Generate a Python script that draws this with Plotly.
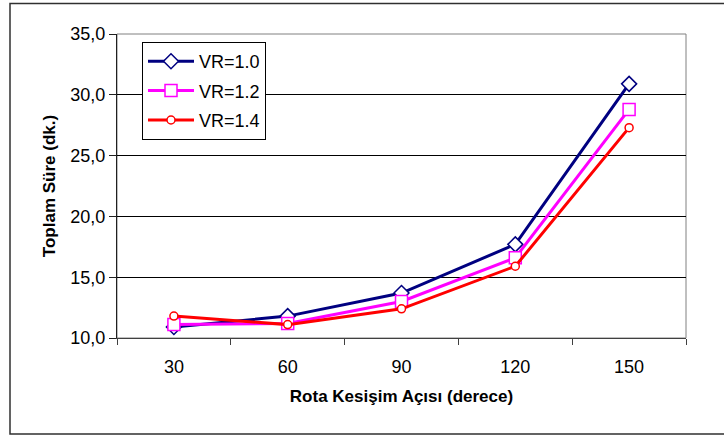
import plotly.graph_objects as go

categories = ["30", "60", "90", "120", "150"]
vr10 = [10.9, 11.8, 13.7, 17.7, 30.9]
vr12 = [11.1, 11.2, 13.0, 16.6, 28.8]
vr14 = [11.8, 11.1, 12.4, 15.9, 27.3]
series_names = ["VR=1.0", "VR=1.2", "VR=1.4"]
y_ticks = [10, 15, 20, 25, 30, 35]

FONT = "Liberation Sans, Arial, sans-serif"

fig = go.Figure()
styles = [
    (vr10, "#000080", "diamond", 11.5),
    (vr12, "#FF00FF", "square", 12),
    (vr14, "#FF0000", "circle", 8),
]
for i, (vals, col, sym, sz) in enumerate(styles):
    fig.add_trace(go.Scatter(
        x=categories, y=vals, name=series_names[i], mode="lines+markers",
        legendgroup=f"g{i}",
        line=dict(color=col, width=3),
        marker=dict(symbol=sym, size=sz, color="white",
                    line=dict(color=col, width=1.5)),
    ))

L, R, T, B = 117, 38, 34, 99
W, H = 724, 437
pw, ph = W - L - R, H - T - B

fig.update_layout(
    width=W, height=H,
    margin=dict(l=L, r=R, t=T, b=B),
    paper_bgcolor="white", plot_bgcolor="white",
    separators=", ",
    font=dict(family=FONT, size=16, color="black"),
    showlegend=True,
    legend=dict(
        x=(142 - L) / pw, y=(338 - 42) / ph, xanchor="left", yanchor="top",
        bordercolor="black", borderwidth=1, bgcolor="white",
        font=dict(family=FONT, size=18, color="black"),
        tracegroupgap=3, itemwidth=46,
    ),
    xaxis=dict(
        type="category", categoryorder="array", categoryarray=categories,
        range=[-0.5, 4.5],
        showline=True, linecolor="#404040", linewidth=1,
        ticks="outside", tickson="boundaries", ticklen=6, tickcolor="#404040",
        ticklabelstandoff=12,
        showgrid=False, zeroline=False,
        tickfont=dict(family=FONT, size=18),
        title=dict(text="<b>Rota Kesişim Açısı (derece)</b>",
                   font=dict(family=FONT, size=17), standoff=14),
    ),
    yaxis=dict(
        range=[10, 35], tickvals=y_ticks, tickformat=".1f",
        showline=True, linecolor="#202020", linewidth=1,
        ticks="outside", ticklen=7, tickcolor="#202020",
        showgrid=True, gridcolor="black", gridwidth=1,
        zeroline=False,
        tickfont=dict(family=FONT, size=18),
        title=dict(text="<b>Toplam Süre (dk.)</b>",
                   font=dict(family=FONT, size=17), standoff=10),
    ),
    shapes=[
        dict(type="rect", xref="paper", yref="paper", x0=0, x1=1, y0=0, y1=1,
             line=dict(color="#808080", width=1), layer="below"),
        dict(type="rect", xref="paper", yref="paper",
             x0=(10 - L) / pw, x1=(735 - L) / pw,
             y0=(338 - 434) / ph, y1=(338 - 3.5) / ph,
             line=dict(color="#303030", width=1.5)),
    ],
)

fig.write_html("out.html")
